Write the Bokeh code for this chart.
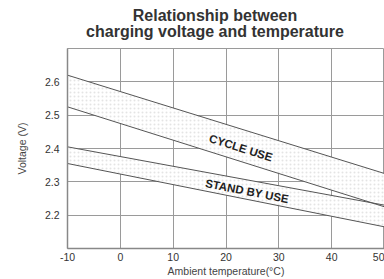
from bokeh.plotting import figure
from bokeh.models import Label, FixedTicker, Range1d
from bokeh.layouts import column
from bokeh.embed import file_html
from bokeh.resources import INLINE
from bokeh.core.properties import value

temps = [-10, 50]
cycle_upper = [2.62, 2.325]
cycle_lower = [2.525, 2.225]
standby_upper = [2.405, 2.23]
standby_lower = [2.355, 2.165]

x_ticks = [-10, 0, 10, 20, 30, 40, 50]
x_tick_labels = ["-10", "0", "10", "20", "30", "40", "50"]
y_ticks = [2.2, 2.3, 2.4, 2.5, 2.6]

title_lines = ["Relationship between", "charging voltage and temperature"]
x_label = "Ambient temperature(°C)"
y_label = "Voltage (V)"

FONT = "Liberation Sans"
GRID = "#9a9a9a"
TXT = "#333333"

# --- title strip (its own small figure, no axes; its frame is aligned with the chart's) ---
t = figure(width=384, height=46, output_backend="svg", toolbar_location=None,
           x_range=Range1d(67, 384), y_range=Range1d(46, 0),
           min_border_left=67, min_border_right=0, min_border_top=0, min_border_bottom=0)
t.title = None
t.axis.visible = False
t.grid.visible = False
t.outline_line_color = None
t.text(x=[214.5, 214.5], y=[15, 31], text=title_lines, text_align="center",
       text_baseline="middle", text_font=value(FONT), text_font_style="bold",
       text_font_size="16px", text_color=TXT)

# --- main chart ---
p = figure(width=384, height=233, output_backend="svg", toolbar_location=None,
           x_range=Range1d(-10, 50), y_range=Range1d(2.1, 2.7),
           min_border_left=67, min_border_right=0, min_border_top=2, min_border_bottom=30)
p.title = None
p.background_fill_color = "white"
p.border_fill_color = "white"
p.outline_line_color = GRID
p.outline_line_width = 1

p.xaxis.ticker = FixedTicker(ticks=x_ticks)
p.xaxis.major_label_overrides = dict(zip(x_ticks, x_tick_labels))
p.yaxis.ticker = FixedTicker(ticks=y_ticks)
p.xgrid.ticker = FixedTicker(ticks=x_ticks)
p.ygrid.ticker = FixedTicker(ticks=y_ticks)
p.grid.grid_line_color = GRID
p.grid.grid_line_width = 1
p.grid.grid_line_alpha = 1

for ax in (p.xaxis, p.yaxis):
    ax.axis_line_color = "#888888"
    ax.axis_line_width = 1.5
    ax.major_tick_line_color = None
    ax.minor_tick_line_color = None
    ax.major_tick_out = 0
    ax.major_tick_in = 0
    ax.major_label_text_font = FONT
    ax.major_label_text_font_size = "10.5px"
    ax.major_label_text_color = TXT
    ax.axis_label_text_font = FONT
    ax.axis_label_text_font_size = "10.5px"
    ax.axis_label_text_font_style = "normal"
    ax.axis_label_text_color = "#444444"

p.xaxis.axis_label = x_label
p.yaxis.axis_label = y_label
p.xaxis.major_label_standoff = 4
p.xaxis.axis_label_standoff = 1
p.yaxis.major_label_standoff = 8
p.yaxis.axis_label_standoff = 14

# bands
p.varea(x=temps, y1=cycle_lower, y2=cycle_upper, fill_color="white",
        hatch_pattern="dot", hatch_color="#e4e4e4", hatch_scale=4, hatch_weight=0.5)
p.varea(x=temps, y1=standby_lower, y2=standby_upper, fill_color="white",
        hatch_pattern="dot", hatch_color="#e4e4e4", hatch_scale=4, hatch_weight=0.5)

for ys in (cycle_upper, cycle_lower, standby_upper, standby_lower):
    p.line(temps, ys, line_color="#555555", line_width=1)

p.add_layout(Label(x=22.8, y=2.402, text="CYCLE USE", angle=-17.5, angle_units="deg",
                   text_align="center", text_baseline="middle", text_font=FONT,
                   text_font_style="bold", text_font_size="11.5px", text_color="#222222"))
p.add_layout(Label(x=24.0, y=2.272, text="STAND BY USE", angle=-11, angle_units="deg",
                   text_align="center", text_baseline="middle", text_font=FONT,
                   text_font_style="bold", text_font_size="11.5px", text_color="#222222"))

layout = column(t, p, spacing=0)
open("out.html", "w").write(file_html(layout, INLINE))
